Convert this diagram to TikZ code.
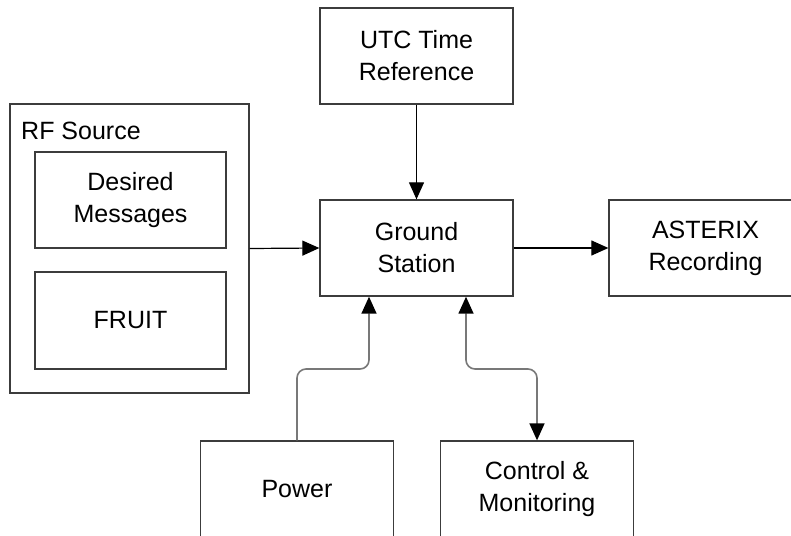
\documentclass[tikz,border=0pt]{standalone}
\usepackage{fontspec}
\setmainfont{Liberation Sans}
\usetikzlibrary{arrows.meta}
\definecolor{boxline}{RGB}{60,60,60}
\definecolor{bendline}{RGB}{120,120,120}
\begin{document}
\begin{tikzpicture}[x=1pt,y=-1pt,
        block/.style={draw=boxline, line width=1.3pt, minimum width=193pt, minimum height=96pt,
            align=center, inner sep=0pt, font=\fontsize{25}{32}\selectfont},
        tip/.style={Triangle[length=17pt,width=15pt,color=black]},
        flow/.style={draw=black, line width=1.2pt, -{Triangle[length=17pt,width=15pt]}},
        bendflow/.style={draw=bendline, line width=1.6pt, rounded corners=9pt}]
        \clip (0,0) rectangle (791,535);

        \node[block, minimum width=239pt, minimum height=289pt] (rf) at (129.5,248.5) {};
        \node[anchor=base west, inner sep=0pt, font=\fontsize{25}{32}\selectfont] (rflabel) at (21,139) {RF Source};
        \node[block, minimum width=191pt] (desired) at (130.5,200) {Desired\\Messages};
        \node[block, minimum width=191pt, minimum height=97pt] (fruit) at (130.5,320.5) {FRUIT};
        \node[block] (utc) at (416.5,56) {UTC Time\\Reference};
        \node[block] (gs) at (416.5,248) {Ground\\Station};
        \node[block] (asterix) at (705.5,248) {ASTERIX\\Recording};
        \node[block] (power) at (297,489) {Power};
        \node[block] (ctrl) at (537,489) {Control \&\\Monitoring};

        \path[flow] (rf.east) -- (gs.west);
        \path[flow] (utc.south) -- (gs.north);
        \path[flow] (gs.east) -- (asterix.west);
        \path[bendflow, -{Triangle[length=17pt,width=15pt,color=black]}]
            (power.north) |- (369,369) -- (369,296.7);
        \path[bendflow, {Triangle[length=17pt,width=15pt,color=black]}-{Triangle[length=17pt,width=15pt,color=black]}]
            (466,296.7) |- (537,369) -- (ctrl.north);
    \end{tikzpicture}
\end{document}
